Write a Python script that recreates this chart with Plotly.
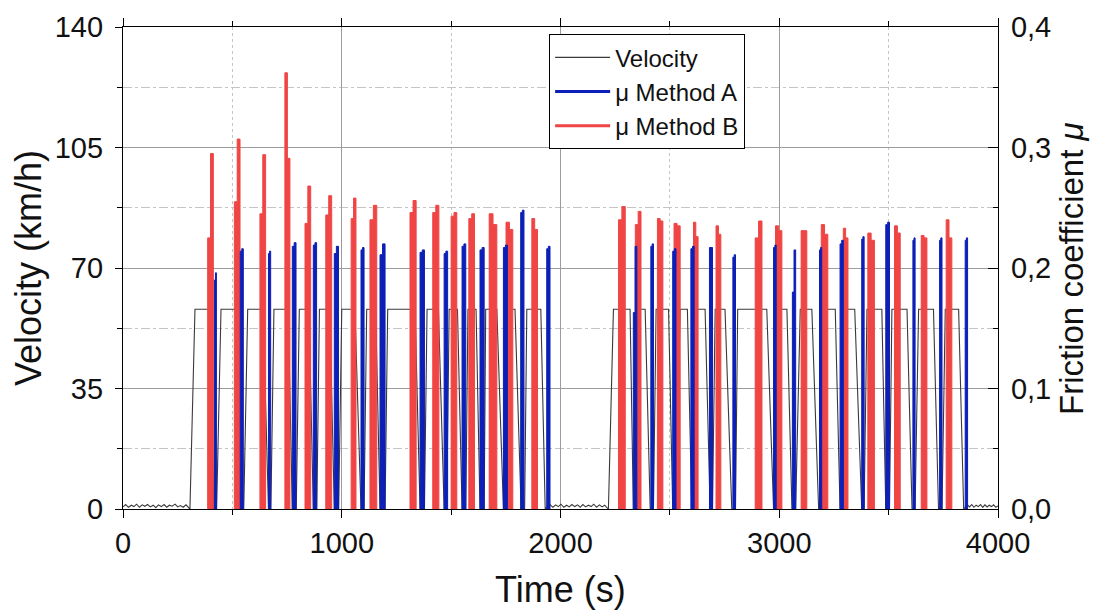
import plotly.graph_objects as go

# ---------------- data ----------------
# velocity cycles (time in s): rise start, reach plateau, leave plateau, reach standstill
rise_start = [306, 428, 552, 676, 792, 886, 986, 1102, 1198, 1378, 1480, 1567, 1651, 1740, 1836,
              2219, 2340, 2425, 2528, 2611, 2695, 2800, 2986, 3075, 3195, 3293, 3388, 3504, 3621, 3744]
plateau_start = [329, 448, 570, 690, 806, 898, 1000, 1114, 1210, 1390, 1491, 1577, 1658, 1748, 1846,
                 2242, 2361, 2437, 2547, 2623, 2707, 2810, 3004, 3096, 3207, 3305, 3401, 3515, 3637, 3759]
plateau_end = [395, 520, 640, 755, 850, 945, 1060, 1155, 1335, 1442, 1529, 1614, 1709, 1792, 1910,
               2318, 2387, 2494, 2580, 2661, 2752, 2943, 3035, 3149, 3256, 3345, 3469, 3584, 3705, 3820]
stop_time = [415, 536, 665, 774, 870, 966, 1088, 1175, 1358, 1468, 1550, 1632, 1739, 1820, 1930,
             2333, 2410, 2513, 2600, 2684, 2783, 2974, 3058, 3180, 3278, 3377, 3487, 3607, 3728, 3843]
plateau_speed = [58, 58, 58, 58, 58, 58, 58, 58, 58, 58, 58, 58, 58, 58, 58,
                 58, 58, 58, 58, 58, 58, 58, 58, 58, 58, 58, 58, 58, 58, 58]

# idle (near-zero) velocity segments
idle_t = [0, 12, 25, 38, 50, 62, 75, 88, 100, 112, 125, 138, 150, 162, 175, 188, 200, 212,
          225, 238, 250, 262, 275, 288, 300,
          1940, 1952, 1965, 1978, 1990, 2002, 2015, 2028, 2040, 2052, 2065, 2078, 2090, 2102,
          2115, 2128, 2140, 2152, 2165, 2178, 2190, 2202, 2212,
          3850, 3860, 3870, 3880, 3890, 3900, 3910, 3920, 3930, 3940, 3950, 3960, 3970, 3980,
          3990, 4000]
idle_v = [0.6, 1.3, 0.5, 1.1, 0.7, 1.4, 0.5, 1.2, 0.8, 1.3, 0.6, 1.1, 0.4, 1.2, 0.7, 1.3, 0.5,
          1.1, 0.8, 1.4, 0.6, 1.0, 0.5, 1.2, 0.4,
          0.6, 1.3, 0.5, 1.2, 0.7, 1.4, 0.5, 1.1, 0.6, 1.3, 0.7, 1.2, 0.5, 1.3, 0.6, 1.1, 0.7,
          1.4, 0.5, 1.2, 0.6, 1.1, 0.4,
          0.5, 1.2, 0.6, 1.3, 0.5, 1.1, 0.7, 1.3, 0.5, 1.2, 0.6, 1.1, 0.7, 1.2, 0.5, 0.9]

# friction coefficient, Method B (red): start, end, first level, second level
red_t0 = [387, 509, 626, 740, 832, 927, 1043, 1129, 1312, 1416, 1500, 1581, 1674, 1751, 1869,
          2265, 2342, 2443, 2519, 2608, 2711, 2890, 2983, 3100, 3192, 3293, 3405, 3527, 3649, 3763]
red_t1 = [413, 535, 652, 763, 858, 954, 1065, 1160, 1340, 1444, 1526, 1607, 1709, 1782, 1895,
          2296, 2368, 2468, 2547, 2629, 2733, 2921, 3012, 3126, 3222, 3314, 3435, 3553, 3675, 3789]
red_a = [0.225, 0.255, 0.245, 0.362, 0.237, 0.244, 0.241, 0.240, 0.246, 0.246, 0.243, 0.241, 0.245, 0.238, 0.241,
         0.240, 0.236, 0.241, 0.237, 0.238, 0.235, 0.225, 0.235, 0.231, 0.236, 0.233, 0.229, 0.235, 0.227, 0.240]
red_b = [0.295, 0.307, 0.294, 0.291, 0.268, 0.260, 0.258, 0.252, 0.256, 0.252, 0.246, 0.245, 0.236, 0.232, 0.232,
         0.251, 0.247, 0.239, 0.235, 0.226, 0.228, 0.239, 0.231, 0.231, 0.228, 0.225, 0.223, 0.229, 0.225, 0.225]

# friction coefficient, Method A (blue)
blue_t0 = [418, 536, 665, 774, 870, 966, 1088, 1175, 1358, 1468, 1550, 1632, 1739, 1818, 1937,
           2333, 2413, 2513, 2596, 2681, 2788, 2974, 3060, 3184, 3278, 3377, 3487, 3611, 3733, 3850]
blue_t1 = [427, 550, 675, 791, 885, 985, 1102, 1198, 1378, 1484, 1567, 1651, 1757, 1833, 1952,
           2349, 2425, 2528, 2611, 2695, 2800, 2986, 3075, 3194, 3293, 3388, 3504, 3621, 3744, 3861]
blue_a = [0.190, 0.214, 0.212, 0.218, 0.219, 0.212, 0.215, 0.211, 0.213, 0.212, 0.218, 0.215, 0.217, 0.246, 0.216,
          0.163, 0.218, 0.214, 0.216, 0.217, 0.209, 0.217, 0.180, 0.215, 0.220, 0.224, 0.236, 0.223, 0.223, 0.223]
blue_b = [0.196, 0.216, 0.214, 0.221, 0.221, 0.218, 0.217, 0.220, 0.215, 0.214, 0.220, 0.217, 0.219, 0.248, 0.218,
          0.218, 0.220, 0.216, 0.218, 0.217, 0.211, 0.219, 0.215, 0.217, 0.223, 0.226, 0.238, 0.225, 0.225, 0.225]

x_ticks = [0, 1000, 2000, 3000, 4000]
v_ticks = [0, 35, 70, 105, 140]
mu_ticks = [0.0, 0.1, 0.2, 0.3, 0.4]
mu_labels = ["0,0", "0,1", "0,2", "0,3", "0,4"]

# ---------------- build traces ----------------
pts = list(zip(idle_t, idle_v))
for rs, ps, pe, st, v in zip(rise_start, plateau_start, plateau_end, stop_time, plateau_speed):
    pts += [(rs, 0.0), (ps, v), (pe, v), (st, 0.0)]
pts.sort(key=lambda p: p[0])
vel_x = [p[0] for p in pts]
vel_y = [p[1] for p in pts]


def spikes(t0s, t1s, aa, bb):
    xs, ys = [], []
    for t0, t1, a, b in zip(t0s, t1s, aa, bb):
        tm = (t0 + t1) / 2
        xs += [t0, t0, tm, tm, t1, t1, None]
        ys += [0, a, a, b, b, 0, None]
    return xs, ys


RED = "#f04545"
BLUE = "#0c1fb6"
GRAYV = "#3a3a3a"
FONT = "Liberation Sans, Arial, sans-serif"

fig = go.Figure()
fig.add_trace(go.Scatter(x=vel_x, y=vel_y, mode="lines", name="Velocity",
                         line=dict(color=GRAYV, width=1.1), hoverinfo="skip"))
rx, ry = spikes(red_t0, red_t1, red_a, red_b)
bx, by = spikes(blue_t0, blue_t1, blue_a, blue_b)
fig.add_trace(go.Scatter(x=rx, y=ry, yaxis="y2", mode="lines", fill="toself", fillcolor=RED,
                         line=dict(color=RED, width=1), showlegend=False, hoverinfo="skip"))
fig.add_trace(go.Scatter(x=bx, y=by, yaxis="y2", mode="lines", fill="toself", fillcolor=BLUE,
                         line=dict(color=BLUE, width=1), showlegend=False, hoverinfo="skip"))
fig.add_trace(go.Scatter(x=[None], y=[None], yaxis="y2", mode="lines", name="μ Method A",
                         line=dict(color=BLUE, width=3)))
fig.add_trace(go.Scatter(x=[None], y=[None], yaxis="y2", mode="lines", name="μ Method B",
                         line=dict(color=RED, width=3)))

axis_common = dict(showline=True, linecolor="black", linewidth=1.3, zeroline=False,
                   tickcolor="black", tickfont=dict(family=FONT, size=29, color="#111"))

fig.update_layout(
    width=1102, height=612,
    margin=dict(l=123, r=104, t=27, b=103),
    paper_bgcolor="white", plot_bgcolor="white",
    font=dict(family=FONT, color="#111"),
    showlegend=True,
    legend=dict(x=0.487, y=0.985, xanchor="left", yanchor="top",
                bgcolor="white", bordercolor="black", borderwidth=1,
                font=dict(family=FONT, size=24, color="#111"),
                itemwidth=55, traceorder="normal"),
    xaxis=dict(range=[0, 4000], tickvals=x_ticks, ticks="outside", ticklen=8,
               mirror="ticks", showgrid=True, gridcolor="#9c9c9c", gridwidth=1,
               minor=dict(dtick=500, tick0=0, ticks="outside", ticklen=5, tickcolor="black",
                          showgrid=True, gridcolor="#c4c4c4", griddash="dot"),
               **axis_common),
    yaxis=dict(range=[0, 140], tickvals=v_ticks, ticks="outside", ticklen=7,
               showgrid=True, gridcolor="#9c9c9c", gridwidth=1,
               minor=dict(dtick=17.5, tick0=0, ticks="outside", ticklen=5, tickcolor="black",
                          showgrid=True, gridcolor="#c4c4c4", griddash="dashdot"),
               ticklabelstandoff=6,
               **axis_common),
    yaxis2=dict(range=[0, 0.4], overlaying="y", side="right", tickvals=mu_ticks, ticktext=mu_labels,
                ticks="inside", ticklen=10, showgrid=False,
                minor=dict(dtick=0.05, tick0=0, ticks="inside", ticklen=5, tickcolor="black", showgrid=False),
                ticklabelstandoff=6,
                **axis_common),
    annotations=[
        dict(text="Time (s)", xref="paper", yref="paper", x=0.5, y=-0.168,
             xanchor="center", yanchor="middle", showarrow=False,
             font=dict(family=FONT, size=36, color="#111")),
        dict(text="Velocity (km/h)", xref="paper", yref="paper", x=-0.1086, y=0.5,
             xanchor="center", yanchor="middle", textangle=-90, showarrow=False,
             font=dict(family=FONT, size=36, color="#111")),
        dict(text="Friction coefficient <i>μ</i>", xref="paper", yref="paper", x=1.0834, y=0.5,
             xanchor="center", yanchor="middle", textangle=-90, showarrow=False,
             font=dict(family=FONT, size=33, color="#111")),
    ],
)

fig.write_html("out.html")
